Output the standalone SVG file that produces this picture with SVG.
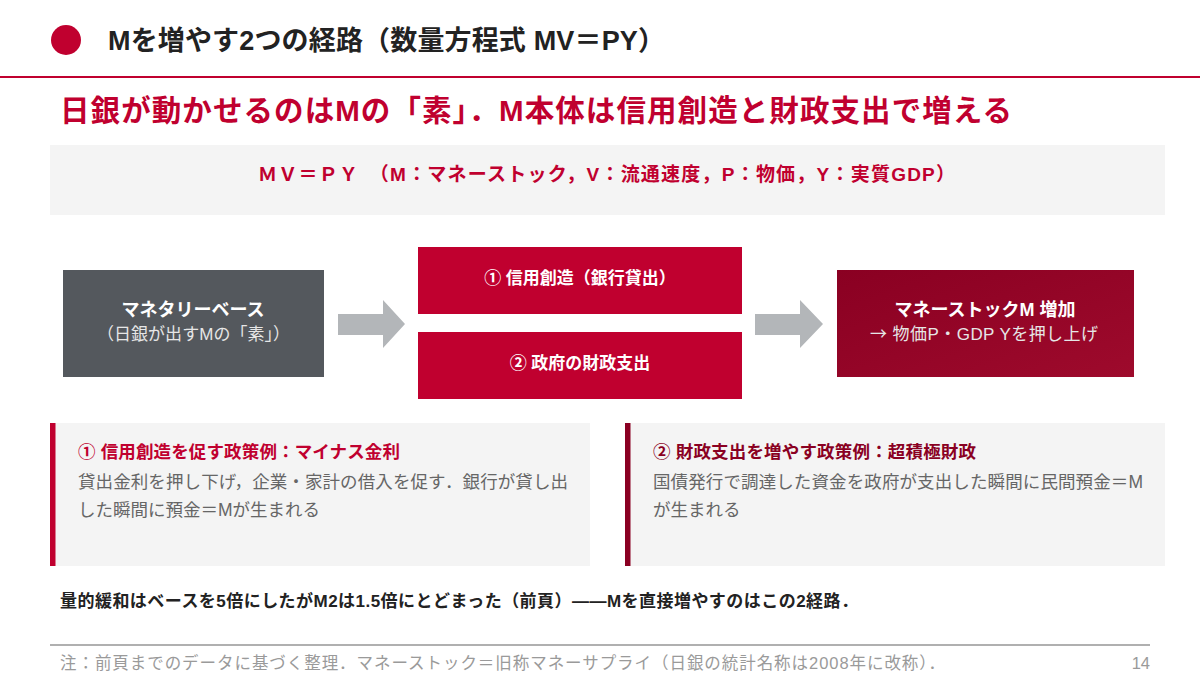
<svg xmlns="http://www.w3.org/2000/svg" width="1200" height="675" viewBox="0 0 1200 675">
<defs>
<style>
text{font-family:"Liberation Sans","Noto Sans CJK JP",sans-serif;}
.b{font-weight:bold;}
.wt{fill:#ffffff;}
.lt{fill:#e6e6e6;}
.arrow{fill:#b3b6b9;}
.body{fill:#666666;font-size:17.5px;}
.cjk{font-family:"Noto Sans CJK JP",sans-serif;}
</style>
<linearGradient id="gr" x1="0" y1="0" x2="1" y2="1">
<stop offset="0" stop-color="#8a0022"/>
<stop offset="1" stop-color="#9e0a2c"/>
</linearGradient>
</defs>
<rect width="1200" height="675" fill="#ffffff"/>
<g id="header">
<circle cx="66" cy="40" r="15" fill="#c0002f"/>
<text x="108" y="50" class="b" font-size="27" fill="#222222" textLength="557" lengthAdjust="spacing">Mを増やす2つの経路（数量方程式 MV＝PY）</text>
<rect x="0" y="76" width="1200" height="2" fill="#c0002f"/>
</g>
<g id="subtitle">
<text x="60" y="121" class="b" font-size="29.5" fill="#c0002f" textLength="952" lengthAdjust="spacing">日銀が動かせるのはMの「素」．M本体は信用創造と財政支出で増える</text>
</g>
<g id="equation">
<rect x="50" y="145" width="1115" height="70" fill="#f4f4f4"/>
<text x="258" y="181" class="b" font-size="19" fill="#c0002f" textLength="697" lengthAdjust="spacing">ＭＶ＝ＰＹ　（M：マネーストック，V：流通速度，P：物価，Y：実質GDP）</text>
</g>
<g id="connectors">
<polygon class="arrow" points="338,314 383,314 383,300 405,324 383,348 383,335 338,335"/>
<polygon class="arrow" points="755,314 800,314 800,300 823,324 800,348 800,335 755,335"/>
</g>
<g id="base">
<rect x="63" y="270" width="261" height="107" fill="#54585d"/>
<text x="193" y="316" text-anchor="middle" class="b wt" font-size="18">マネタリーベース</text>
<text x="97" y="340" class="lt" font-size="17" textLength="193" lengthAdjust="spacing">（日銀が出すMの「素」）</text>
</g>
<g id="credit">
<rect x="418" y="247" width="324" height="67" fill="#c0002f"/>
<text x="580" y="284" text-anchor="middle" class="b wt" font-size="17">① 信用創造（銀行貸出）</text>
</g>
<g id="fiscal">
<rect x="418" y="332" width="324" height="67" fill="#c0002f"/>
<text x="580" y="369" text-anchor="middle" class="b wt" font-size="17">② 政府の財政支出</text>
</g>
<g id="moneystock">
<rect x="837" y="270" width="297" height="107" fill="url(#gr)"/>
<text x="985" y="316" text-anchor="middle" class="b wt" font-size="18">マネーストックM 増加</text>
<text x="870" y="340" class="lt" font-size="17" textLength="228" lengthAdjust="spacing"><tspan class="cjk">→</tspan> 物価P・GDP Yを押し上げ</text>
</g>
<g id="card1">
<rect x="50" y="423" width="540" height="143" fill="#f4f4f4"/>
<rect x="50" y="423" width="5.5" height="143" fill="#c0002f"/>
<text x="78" y="458" class="b" font-size="17.5" fill="#c0002f" textLength="322" lengthAdjust="spacing">① 信用創造を促す政策例：マイナス金利</text>
<text x="78" y="488" class="body" textLength="490" lengthAdjust="spacing">貸出金利を押し下げ，企業・家計の借入を促す．銀行が貸し出</text>
<text x="78" y="516" class="body">した瞬間に預金＝Mが生まれる</text>
</g>
<g id="card2">
<rect x="625" y="423" width="540" height="143" fill="#f4f4f4"/>
<rect x="625" y="423" width="5.5" height="143" fill="#8a0022"/>
<text x="653" y="458" class="b" font-size="17.5" fill="#8a0022" textLength="323" lengthAdjust="spacing">② 財政支出を増やす政策例：超積極財政</text>
<text x="653" y="488" class="body" textLength="490" lengthAdjust="spacing">国債発行で調達した資金を政府が支出した瞬間に民間預金＝M</text>
<text x="653" y="516" class="body">が生まれる</text>
</g>
<g id="conclusion">
<text x="60" y="607" class="b" font-size="17" fill="#222222" textLength="798" lengthAdjust="spacing">量的緩和はベースを5倍にしたがM2は1.5倍にとどまった（前頁）——Mを直接増やすのはこの2経路．</text>
</g>
<g id="footer">
<rect x="50" y="644" width="1100" height="2" fill="#b0b0b0"/>
<text x="60" y="669" font-size="16.5" fill="#9a9a9a" textLength="885" lengthAdjust="spacing">注：前頁までのデータに基づく整理．マネーストック＝旧称マネーサプライ（日銀の統計名称は2008年に改称）．</text>
<text x="1150" y="669" text-anchor="end" font-size="16.5" fill="#9a9a9a">14</text>
</g>
</svg>
